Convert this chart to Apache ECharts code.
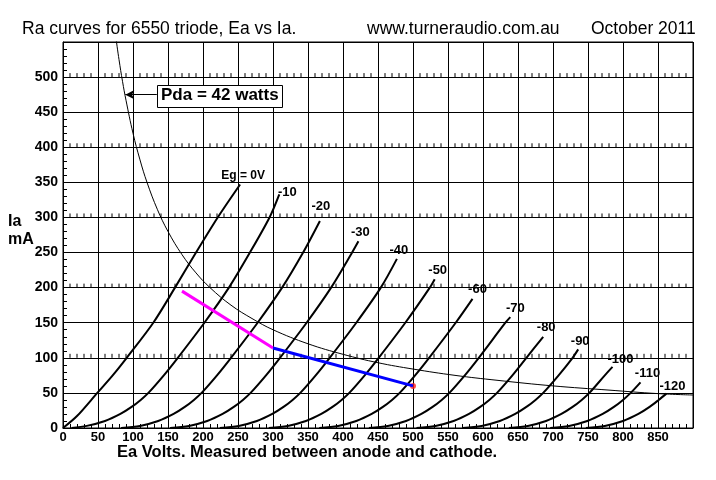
<!DOCTYPE html>
<html><head><meta charset="utf-8">
<script src="https://cdn.jsdelivr.net/npm/echarts@6/dist/echarts.min.js"></script>
<style>html,body{margin:0;padding:0;background:#fff}#c{width:716px;height:480px}</style>
</head><body><div id="c"></div>
<script>
// Grid voltage labels
const gridLabels = ['Eg = 0V','-10','-20','-30','-40','-50','-60','-70','-80','-90','-100','-110','-120'];
// Curves: [Ea volts, Ia mA]
const curveEg0    = [[0,0],[20,17],[49,50],[71,75],[91,100],[129,150],[160,200],[190,250],[221,300],[253,347]];
const curveEgM10  = [[12,0],[34,3],[60,10],[82,20],[98,30],[111,40],[122,50],[144,75],[164,100],[202,150],[237,200],[267,250],[295,300],[309,333]];
const curveEgM20  = [[83,0],[110,3],[136,10],[158,20],[174,30],[187,40],[198,50],[220,75],[240,100],[278,150],[313,200],[343,250],[367,295]];
const curveEgM30  = [[153,0],[180,3],[206,10],[228,20],[244,30],[257,40],[268,50],[290,75],[310,100],[348,150],[383,200],[413,250],[422,266]];
const curveEgM40  = [[224,0],[251,3],[277,10],[299,20],[315,30],[328,40],[339,50],[361,75],[381,100],[419,150],[454,200],[477,241]];
const curveEgM50  = [[294,0],[321,3],[347,10],[369,20],[385,30],[398,40],[409,50],[431,75],[451,100],[489,150],[524,200],[531,212]];
const curveEgM60  = [[366,0],[393,3],[419,10],[441,20],[457,30],[470,40],[481,50],[503,75],[523,100],[561,150],[585,184]];
const curveEgM70  = [[437,0],[464,3],[490,10],[512,20],[528,30],[541,40],[552,50],[574,75],[594,100],[632,150],[639,158]];
const curveEgM80  = [[505,0],[532,3],[558,10],[580,20],[596,30],[609,40],[620,50],[642,75],[662,100],[686,130]];
const curveEgM90  = [[571,0],[598,3],[624,10],[646,20],[662,30],[675,40],[686,50],[708,75],[728,100],[736,112]];
const curveEgM100 = [[637,0],[664,3],[690,10],[712,20],[728,30],[741,40],[752,50],[774,75],[785,87]];
const curveEgM110 = [[696,0],[723,3],[749,10],[771,20],[787,30],[800,40],[811,50],[825,65]];
const curveEgM120 = [[747,0],[774,3],[800,10],[822,20],[838,30],[851,40],[862,49]];
// 42 W plate dissipation curve
const pda42 = [[76,553],[80,525],[85,494],[90,467],[100,420],[110,382],[120,350],[135,311],[150,280],[170,247],[190,221],[210,200],[240,175],[270,156],[300,140],[350,120],[400,105],[450,93],[500,84],[560,75],[620,68],[700,60],[780,54],[850,49],[900,47]];
// Load line
const loadMagenta = [[170,195],[300,114]];
const loadBlue = [[300,114],[500,60]];
const opPoint = [[500,60]];
// Pda arrow (tail, head)
const pdaArrow = [[134,475],[89,475]];
// Horizontal gridlines that carry minor tick marks
const tickedLevels = [100,200,300,400,500];
// Axis ranges
const xMin = 0, xMax = 900, xStep = 50;
const yMin = 0, yMax = 550, yStep = 50;

const curves = [curveEg0,curveEgM10,curveEgM20,curveEgM30,curveEgM40,curveEgM50,curveEgM60,curveEgM70,curveEgM80,curveEgM90,curveEgM100,curveEgM110,curveEgM120];
const labelOffsets = [[3,-9],[8,-2],[1,-15],[2,-9],[2,-8],[3,-9],[5,-9],[5,-9],[3,-9],[2,-8],[8,-8],[7,-9],[6,-7]];

const FONT = 'Liberation Sans, Arial, sans-serif';
const series = [];
curves.forEach((d,i)=>{
  series.push({
    type:'line', data:d, smooth:0.3, showSymbol:false, silent:true,
    lineStyle:{color:'#000', width:2},
    endLabel:{show:true, formatter:gridLabels[i], distance:0, align:'center', verticalAlign:'middle',
      offset:labelOffsets[i], color:'#000', fontFamily:FONT, fontWeight:'bold', fontSize:i===0?12:13}
  });
});
series.push({
  type:'line', data:pda42, smooth:0.4, showSymbol:false, silent:true,
  lineStyle:{color:'#000', width:1},
  markLine:{silent:true, symbol:['none','arrow'], symbolSize:[7,9],
    lineStyle:{color:'#000', width:1, type:'solid'}, label:{show:false},
    data:[[{coord:pdaArrow[0]},{coord:pdaArrow[1]}]]}
});
series.push({type:'line', data:loadMagenta, showSymbol:false, silent:true, lineStyle:{color:'#ff00ff', width:3}});
series.push({type:'line', data:loadBlue, showSymbol:false, silent:true, lineStyle:{color:'#0000ff', width:3}});
series.push({type:'scatter', data:opPoint, symbolSize:6, silent:true, itemStyle:{color:'#ff2020'}});
series.push({
  type:'custom', silent:true, data:tickedLevels.map(v=>[0,v]),
  renderItem:function(params, api){
    const y = api.value(1);
    const children = [];
    for (let x = xMin + 10; x < xMax; x += 10) {
      if (x % xStep === 0) continue;
      const p = api.coord([x,y]);
      children.push({type:'line', shape:{x1:p[0], y1:p[1], x2:p[0], y2:p[1]-4}, style:{stroke:'#000', lineWidth:1}});
    }
    return {type:'group', children:children};
  }
});

const chart = echarts.init(document.getElementById('c'), null, {renderer:'canvas'});
chart.setOption({
  animation:false,
  backgroundColor:'#fff',
  grid:{left:63, right:23, top:42, bottom:52, show:true, borderColor:'#000', borderWidth:1, backgroundColor:'transparent'},
  title:[
    {text:'Ra curves for 6550 triode, Ea vs Ia.', left:17, top:15, textStyle:{fontFamily:FONT, fontSize:17.5, fontWeight:'normal', color:'#000'}},
    {text:'www.turneraudio.com.au', left:362, top:15, textStyle:{fontFamily:FONT, fontSize:17.5, fontWeight:'normal', color:'#000'}},
    {text:'October 2011', left:586, top:15, textStyle:{fontFamily:FONT, fontSize:17.5, fontWeight:'normal', color:'#000'}}
  ],
  xAxis:{type:'value', min:xMin, max:xMax, interval:xStep,
    axisLine:{show:true, lineStyle:{color:'#000', width:1}},
    axisTick:{show:false, inside:true},
    minorTick:{show:true, splitNumber:5, length:4, lineStyle:{color:'#000'}},
    splitLine:{show:true, lineStyle:{color:'#000', width:1}},
    axisLabel:{color:'#000', fontFamily:FONT, fontWeight:'bold', fontSize:13, margin:3,
      formatter:v=> v>=xMax ? '' : String(v)}
  },
  yAxis:{type:'value', min:yMin, max:yMax, interval:yStep,
    axisLine:{show:true, lineStyle:{color:'#000', width:1}},
    axisTick:{show:false, inside:true},
    minorTick:{show:true, splitNumber:5, length:4, lineStyle:{color:'#000'}},
    splitLine:{show:true, lineStyle:{color:'#000', width:1}},
    axisLabel:{color:'#000', fontFamily:FONT, fontWeight:'bold', fontSize:14, margin:5,
      formatter:v=> v>=yMax ? '' : String(v)}
  },
  graphic:[
    {type:'text', left:117, top:444, style:{text:'Ea Volts. Measured between anode and cathode.', font:'bold 16.5px '+FONT, fill:'#000'}},
    {type:'text', left:8, top:213, style:{text:'Ia\nmA', font:'bold 16px '+FONT, fill:'#000', lineHeight:18}},
    {type:'rect', left:157, top:85, shape:{width:125, height:22}, style:{fill:'#fff', stroke:'#000', lineWidth:1}, z:100},
    {type:'text', left:161, top:87, style:{text:'Pda = 42 watts', font:'bold 17px '+FONT, fill:'#000'}, z:101}
  ],
  series:series
});
</script></body></html>
